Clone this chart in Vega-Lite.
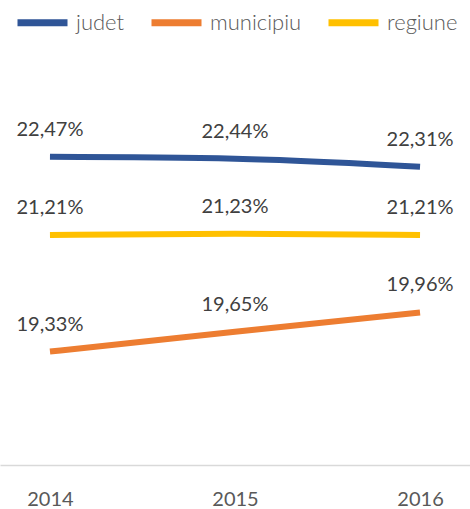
{
  "$schema": "https://vega.github.io/schema/vega-lite/v6.json",
  "autosize": "none",
  "width": 470,
  "height": 403,
  "padding": {"top": 62, "left": 0, "right": 0, "bottom": 44},
  "background": "white",
  "config": {"view": {"stroke": null}, "font": "Lato"},
  "data": {"values": [
    {"an": "2014", "serie": "judet", "val": 22.47, "label": "22,47%"},
    {"an": "2015", "serie": "judet", "val": 22.44, "label": "22,44%"},
    {"an": "2016", "serie": "judet", "val": 22.31, "label": "22,31%"},
    {"an": "2014", "serie": "municipiu", "val": 19.33, "label": "19,33%"},
    {"an": "2015", "serie": "municipiu", "val": 19.65, "label": "19,65%"},
    {"an": "2016", "serie": "municipiu", "val": 19.96, "label": "19,96%"},
    {"an": "2014", "serie": "regiune", "val": 21.21, "label": "21,21%"},
    {"an": "2015", "serie": "regiune", "val": 21.23, "label": "21,23%"},
    {"an": "2016", "serie": "regiune", "val": 21.21, "label": "21,21%"}
  ]},
  "encoding": {
    "x": {"field": "an", "type": "ordinal", "scale": {"type": "point", "padding": 0.27},
      "axis": {"title": null, "ticks": false, "domainColor": "#d9d9d9", "domainWidth": 1.5, "labelAngle": 0, "labelFontSize": 20, "labelColor": "#595959", "labelPadding": 24, "grid": false}},
    "y": {"field": "val", "type": "quantitative", "scale": {"domain": [17.5, 24], "nice": false, "zero": false}, "axis": null}
  },
  "layer": [
    {
      "mark": {"type": "line", "strokeWidth": 6, "interpolate": "monotone"},
      "encoding": {
        "color": {"field": "serie", "type": "nominal",
          "scale": {"domain": ["judet", "municipiu", "regiune"], "range": ["#2f5597", "#ed7d31", "#ffc000"]},
          "legend": {"title": null, "orient": "none", "legendX": 14, "legendY": -68, "direction": "horizontal",
            "symbolType": "stroke", "symbolSize": 2500, "symbolStrokeWidth": 7, "labelFontSize": 22, "labelFontWeight": 300, "labelColor": "#595959",
            "columnPadding": 12, "labelOffset": 5, "labelLimit": 200}}
      }
    },
    {
      "mark": {"type": "text", "dy": -27, "fontSize": 20, "color": "#404040"},
      "encoding": {"text": {"field": "label"}}
    }
  ]
}
